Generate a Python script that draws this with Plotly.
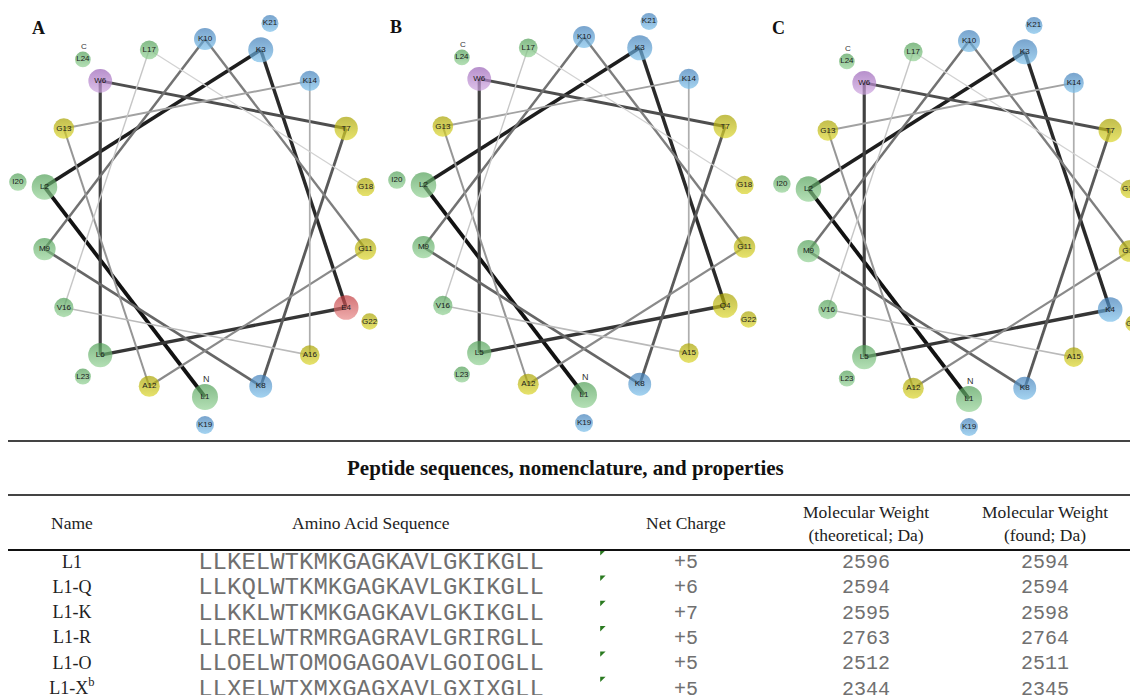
import math
import plotly.graph_objects as go

# ---------------- data ----------------
panel_letters = ["A", "B", "C"]
labels_A = ["L1", "L2", "K3", "E4", "L6", "W6", "T7", "K8", "M9", "K10", "G11", "A12",
            "G13", "K14", "A16", "V16", "L17", "G18", "K19", "I20", "K21", "G22", "L23", "L24"]
labels_B = ["L1", "L2", "K3", "Q4", "L5", "W6", "T7", "K8", "M9", "K10", "G11", "A12",
            "G13", "K14", "A15", "V16", "L17", "G18", "K19", "I20", "K21", "G22", "L23", "L24"]
labels_C = ["L1", "L2", "K3", "K4", "L5", "W6", "T7", "K8", "M9", "K10", "G11", "A12",
            "G13", "K14", "A15", "V16", "L17", "G18", "K19", "I20", "K21", "G22", "L23", "L24"]

table_title = "Peptide sequences, nomenclature, and properties"
headers = ["Name", "Amino Acid Sequence", "Net Charge",
           "Molecular Weight<br>(theoretical; Da)", "Molecular Weight<br>(found; Da)"]
names = ["L1", "L1-Q", "L1-K", "L1-R", "L1-O", "L1-X<sup>b</sup>"]
sequences = ["LLKELWTKMKGAGKAVLGKIKGLL", "LLKQLWTKMKGAGKAVLGKIKGLL",
             "LLKKLWTKMKGAGKAVLGKIKGLL", "LLRELWTRMRGAGRAVLGRIRGLL",
             "LLOELWTOMOGAGOAVLGOIOGLL", "LLXELWTXMXGAGXAVLGXIXGLL"]
net_charge = ["+5", "+6", "+7", "+5", "+5", "+5"]
mw_theoretical = [2596, 2594, 2595, 2763, 2512, 2344]
mw_found = [2594, 2594, 2598, 2764, 2511, 2345]

# ---------------- style ----------------
W, H = 1130, 695
centers = [(205, 218), (584, 216), (969, 220)]
letter_pos = [(38, 28), (396, 27), (778, 28)]
ring_in = (163, 179)
ring_out = (190, 207)

colors = {
    "green": ("#4f9e55", "#93d295"),
    "blue": ("#3f7db8", "#7cc0ea"),
    "yellow": ("#a8a200", "#dcd62c"),
    "purple": ("#9860b6", "#cfa6e0"),
    "red": ("#c0383c", "#e88888"),
}
ctype = {"L": "green", "I": "green", "V": "green", "M": "green",
         "K": "blue", "R": "blue",
         "G": "yellow", "A": "yellow", "T": "yellow", "Q": "yellow",
         "W": "purple", "E": "red"}

fig = go.Figure()


def pos(center, i):
    th = math.radians((i - 1) * 100)
    rx, ry = ring_in if i <= 18 else ring_out
    return center[0] - rx * math.sin(th), center[1] + ry * math.cos(th)


for p, labs in enumerate([labels_A, labels_B, labels_C]):
    c = centers[p]
    pts = [pos(c, i + 1) for i in range(len(labs))]
    # helix connections
    for i in range(17):
        g = int(18 + i * 12)
        fig.add_trace(go.Scatter(
            x=[pts[i][0], pts[i + 1][0]], y=[pts[i][1], pts[i + 1][1]],
            mode="lines", line=dict(color=f"rgb({g},{g},{g})", width=3.8 - i * 0.16),
            hoverinfo="skip", showlegend=False))
    mc = [colors[ctype[l[0]]][0] for l in labs]
    gc = [colors[ctype[l[0]]][1] for l in labs]
    sz = [26 - 0.45 * i for i in range(len(labs))]
    fig.add_trace(go.Scatter(
        x=[q[0] for q in pts], y=[q[1] for q in pts], mode="markers+text",
        text=labs, textposition="middle center",
        textfont=dict(family="Liberation Sans", size=8, color="#1a1a1a"),
        marker=dict(size=sz, color=mc, gradient=dict(type="vertical", color=gc),
                    line=dict(width=0)),
        hoverinfo="text", showlegend=False))
    # N / C termini
    fig.add_annotation(x=pts[0][0] + 1, y=pts[0][1] - 18, text="N", showarrow=False,
                       font=dict(family="Liberation Sans", size=9, color="#333"))
    fig.add_annotation(x=pts[23][0] + 1, y=pts[23][1] - 13, text="C", showarrow=False,
                       font=dict(family="Liberation Sans", size=8, color="#333"))
    fig.add_annotation(x=letter_pos[p][0], y=letter_pos[p][1], text=f"<b>{panel_letters[p]}</b>",
                       showarrow=False, font=dict(family="Liberation Serif", size=18, color="#111"))

# ---------------- table ----------------
for y, w, col in [(441, 2, "#444"), (495, 2, "#444"), (550, 2, "#111")]:
    fig.add_shape(type="line", x0=8, x1=W, y0=y, y1=y, line=dict(color=col, width=w))

fig.add_annotation(x=565, y=468, text=f"<b>{table_title}</b>", showarrow=False,
                   font=dict(family="Liberation Serif", size=21, color="#111"))
col_x = [72, 371, 686, 866, 1045]
for hx, ht in zip(col_x, headers):
    fig.add_annotation(x=hx, y=523, text=ht, showarrow=False,
                       font=dict(family="Liberation Serif", size=17.5, color="#222"))

row_y = [563 + 25.3 * k for k in range(len(names))]
fig.add_trace(go.Scatter(x=[col_x[0]] * len(names), y=row_y, mode="text", text=names,
                         textfont=dict(family="Liberation Serif", size=18, color="#222"),
                         hoverinfo="skip", showlegend=False))
fig.add_trace(go.Scatter(x=[col_x[1]] * len(names), y=row_y, mode="text", text=sequences,
                         textfont=dict(family="Liberation Mono", size=24, color="#707070"),
                         hoverinfo="skip", showlegend=False))
fig.add_trace(go.Scatter(x=[col_x[2]] * len(names), y=row_y, mode="text", text=net_charge,
                         textfont=dict(family="Liberation Mono", size=20, color="#707070"),
                         hoverinfo="skip", showlegend=False))
fig.add_trace(go.Scatter(x=[col_x[3]] * len(names), y=row_y, mode="text",
                         text=[str(v) for v in mw_theoretical],
                         textfont=dict(family="Liberation Mono", size=20, color="#707070"),
                         hoverinfo="skip", showlegend=False))
fig.add_trace(go.Scatter(x=[col_x[4]] * len(names), y=row_y, mode="text",
                         text=[str(v) for v in mw_found],
                         textfont=dict(family="Liberation Mono", size=20, color="#707070"),
                         hoverinfo="skip", showlegend=False))
fig.add_trace(go.Scatter(x=[602] * len(names), y=[v - 11 for v in row_y], mode="markers",
                         marker=dict(symbol="triangle-nw", size=6, color="#2a7a20"),
                         hoverinfo="skip", showlegend=False))

fig.update_layout(
    width=W, height=H, margin=dict(l=0, r=0, t=0, b=0),
    paper_bgcolor="white", plot_bgcolor="white",
    xaxis=dict(range=[0, W], visible=False, fixedrange=True),
    yaxis=dict(range=[H, 0], visible=False, fixedrange=True),
)

fig.write_html("out.html", config={"displayModeBar": False},
               post_script="document.body.style.margin='0';document.body.style.overflow='hidden';")
